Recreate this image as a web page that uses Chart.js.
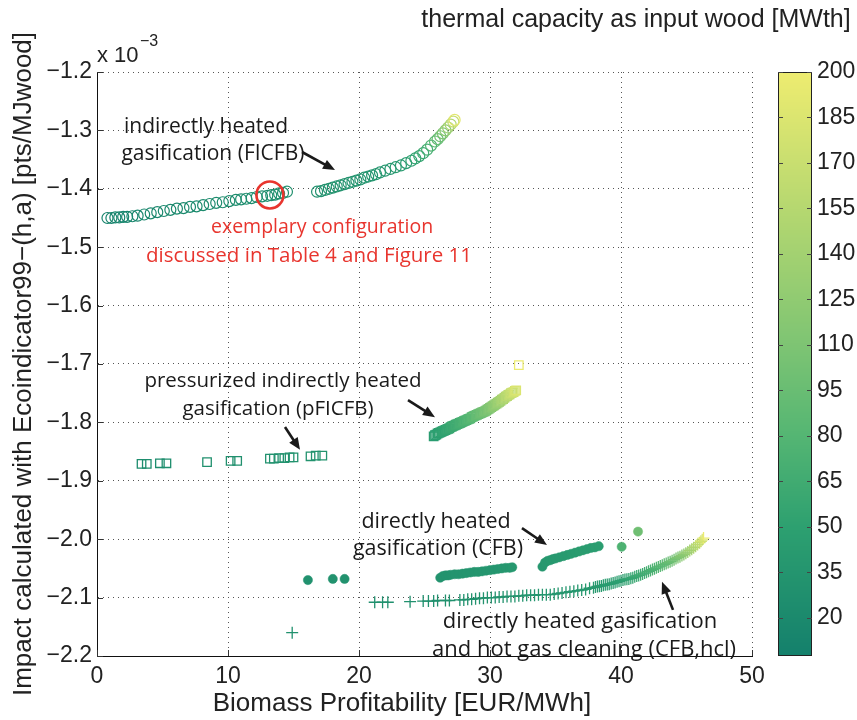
<!DOCTYPE html>
<html>
<head>
<meta charset="utf-8">
<title>Biomass profitability vs. impact</title>
<script src="https://cdn.jsdelivr.net/npm/chart.js@4.4.1/dist/chart.umd.min.js"></script>
<style>
html, body { margin: 0; padding: 0; background: #fff; }
canvas { display: block; }
</style>
</head>
<body>
<canvas id="chart" width="857" height="720"></canvas>
<script>
// axis ticks
const xTicks = [0, 10, 20, 30, 40, 50];
const yTicks = [-2.2, -2.1, -2.0, -1.9, -1.8, -1.7, -1.6, -1.5, -1.4, -1.3, -1.2];
const capacityTicks = [20, 35, 50, 65, 80, 95, 110, 125, 140, 155, 170, 185, 200];
const capacityMin = 7.4;
const capacityMax = 200;

// indirectly heated gasification (FICFB): profitability, impact (x 10^-3), capacity
const ficfbX = [0.8,1.1,1.4,1.7,2.0,2.3,2.7,3.1,3.6,4.1,4.6,5.1,5.6,6.1,6.6,7.1,7.6,8.1,8.6,9.1,
  9.6,10.1,10.6,11.0,11.4,11.8,12.2,12.6,13.0,13.3,13.6,13.9,14.2,14.5,
  16.8,17.1,17.4,17.7,18.0,18.3,18.6,18.9,19.2,19.5,19.8,20.1,20.4,20.7,21.0,21.3,21.6,22.0,22.4,22.8,
  23.2,23.6,24.0,24.3,24.6,24.9,25.2,25.5,25.8,26.0,26.2,26.4,26.6,26.8,27.0,27.2,27.3];
const ficfbY = [-1.450,-1.450,-1.449,-1.449,-1.448,-1.448,-1.447,-1.446,-1.444,-1.442,
  -1.440,-1.438,-1.436,-1.434,-1.433,-1.431,-1.430,-1.428,-1.426,-1.424,
  -1.423,-1.421,-1.419,-1.418,-1.417,-1.416,-1.414,-1.413,-1.412,-1.411,
  -1.410,-1.408,-1.407,-1.405,
  -1.405,-1.404,-1.402,-1.400,-1.398,-1.396,-1.394,-1.392,-1.390,-1.388,
  -1.386,-1.384,-1.381,-1.379,-1.377,-1.375,-1.372,-1.369,-1.366,-1.363,
  -1.360,-1.356,-1.352,-1.348,-1.344,-1.339,-1.333,-1.326,-1.319,-1.315,
  -1.310,-1.305,-1.300,-1.295,-1.290,-1.285,-1.282];
const ficfbCap = [12,12,13,13,14,14,15,15,16,17,17,18,18,19,19,20,20,21,21,22,
  22,23,23,24,24,25,25,26,26,27,27,28,28,29,
  30,30,31,31,31,32,32,32,33,33,33,34,34,35,35,36,36,37,38,40,
  42,45,49,53,57,62,68,75,84,92,100,110,122,135,150,170,190];

// pressurized indirectly heated gasification (pFICFB)
const pficfbX = [3.4,3.8,4.8,5.3,8.4,10.2,10.7,13.2,13.5,13.9,14.3,14.7,15.0,16.3,16.7,17.2,
  25.7,25.8,25.9,26.0,26.1,26.2,26.3,26.4,26.5,26.6,
  26.7,26.8,26.9,27.0,27.1,27.2,27.3,27.4,27.5,27.6,
  27.7,27.8,27.9,28.0,28.1,28.2,28.3,28.4,28.5,28.6,
  28.7,28.8,28.9,29.0,29.1,29.2,29.3,29.4,29.5,29.6,
  29.7,29.8,29.9,30.0,30.1,30.2,30.3,30.4,30.5,30.6,
  30.7,30.8,30.9,31.0,31.1,31.2,31.3,31.4,31.5,31.6,
  31.7,31.8,31.9,32.0,
  32.2];
const pficfbY = [-1.871,-1.871,-1.870,-1.870,-1.868,-1.866,-1.866,-1.862,-1.862,-1.861,
  -1.861,-1.860,-1.860,-1.858,-1.857,-1.857,
  -1.824,-1.822,-1.821,-1.819,-1.818,-1.817,-1.816,-1.815,-1.814,-1.813,
  -1.812,-1.811,-1.810,-1.808,-1.807,-1.806,-1.805,-1.804,-1.803,-1.802,
  -1.801,-1.800,-1.799,-1.798,-1.797,-1.796,-1.795,-1.794,-1.793,-1.791,
  -1.790,-1.789,-1.788,-1.787,-1.786,-1.785,-1.784,-1.783,-1.782,-1.781,
  -1.780,-1.778,-1.777,-1.775,-1.774,-1.772,-1.771,-1.769,-1.768,-1.766,
  -1.765,-1.763,-1.761,-1.760,-1.758,-1.756,-1.755,-1.753,-1.752,-1.750,
  -1.749,-1.748,-1.746,-1.745,
  -1.702];
const pficfbCap = [24,25,25,26,28,29,29,30,30,30,31,31,31,32,32,33,
  45,46,47,48,49,50,51,52,53,54,
  55,57,58,59,60,62,63,65,66,68,
  69,71,72,74,75,77,78,80,82,84,
  86,88,90,92,94,96,98,100,102,105,
  107,110,112,115,118,121,124,127,130,134,
  137,141,144,148,151,155,158,162,165,169,
  172,176,180,185,
  198];

// directly heated gasification (CFB)
const cfbX = [16.1,18.0,18.9,
  26.2,26.4,26.6,26.8,27.0,27.3,27.6,27.9,28.2,28.5,28.8,29.1,29.4,29.7,30.0,30.3,30.6,30.9,31.2,31.5,31.7,
  34.0,34.2,34.4,34.6,34.8,35.0,35.3,35.6,35.9,36.2,36.5,36.8,37.1,37.4,37.7,38.0,38.3,
  40.05,41.3];
const cfbY = [-2.070,-2.068,-2.068,
  -2.066,-2.063,-2.062,-2.062,-2.061,-2.060,-2.060,-2.059,-2.058,-2.057,
  -2.056,-2.056,-2.055,-2.054,-2.053,-2.052,-2.051,-2.050,-2.049,-2.049,-2.048,
  -2.047,-2.040,-2.037,-2.036,-2.034,-2.033,-2.031,-2.029,-2.027,-2.025,
  -2.023,-2.021,-2.019,-2.017,-2.015,-2.014,-2.012,
  -2.013,-1.987];
const cfbCap = [30,31,31,
  32,32,33,33,33,34,34,34,35,35,35,36,36,36,37,37,37,38,38,38,39,
  38,39,39,40,40,41,41,42,42,43,43,44,44,45,45,46,46,
  75,100];

// directly heated gasification and hot gas cleaning (CFB,hcl)
const hclX = [14.9,21.2,21.8,22.2,23.9,24.9,25.3,25.7,26.0,26.6,26.9,
  27.7,28.0,28.3,28.6,28.9,29.2,29.5,29.8,30.1,30.4,
  30.7,31.0,31.3,31.6,31.9,32.2,32.5,32.8,33.1,33.4,
  33.7,34.0,34.3,34.6,34.9,35.2,35.5,35.8,36.1,36.4,
  36.7,37.0,37.3,37.6,37.9,38.2,38.5,38.8,39.1,39.4,
  39.7,40.0,40.3,40.6,40.9,41.2,41.5,41.8,42.1,42.4,
  42.7,43.0,43.3,43.6,43.9,44.2,44.5,44.8,45.1,45.4,
  45.7,46.0,46.2,46.3,
  38.05,38.35,38.65,38.95,39.25,39.55,39.85,40.15,40.45,40.75,
  41.05,41.35,41.65,41.95,42.25,42.55,42.85,43.15,43.45,43.75,
  44.05,44.35,44.65,44.95,45.25,45.55,45.85,46.1];
const hclY = [-2.160,-2.108,-2.108,-2.108,-2.107,-2.106,-2.106,-2.106,-2.105,-2.105,-2.105,
  -2.104,-2.104,-2.103,-2.103,-2.102,-2.101,-2.101,-2.100,-2.100,-2.100,
  -2.099,-2.099,-2.098,-2.098,-2.098,-2.097,-2.097,-2.096,-2.096,-2.096,
  -2.095,-2.095,-2.095,-2.095,-2.094,-2.093,-2.092,-2.091,-2.090,-2.089,
  -2.088,-2.087,-2.086,-2.084,-2.083,-2.081,-2.080,-2.078,-2.077,-2.075,
  -2.073,-2.071,-2.069,-2.068,-2.066,-2.063,-2.061,-2.058,-2.055,-2.052,
  -2.049,-2.046,-2.043,-2.040,-2.037,-2.033,-2.030,-2.026,-2.022,-2.017,
  -2.012,-2.006,-2.001,-1.998,
  -2.082,-2.0805,-2.079,-2.0775,-2.076,-2.074,-2.072,-2.070,-2.0685,-2.067,
  -2.0645,-2.062,-2.0595,-2.0565,-2.0535,-2.0505,-2.0475,-2.0445,-2.0415,-2.0385,
  -2.035,-2.0315,-2.028,-2.024,-2.0195,-2.0145,-2.009,-2.0035];
const hclCap = [30,28,28,28,29,29,29,29,30,30,30,
  30,30,31,31,31,31,32,32,32,32,
  33,33,33,33,34,34,34,35,35,35,
  35,36,36,36,37,37,37,38,38,38,
  39,39,40,40,41,41,42,43,44,45,
  47,49,51,54,57,60,63,66,70,74,
  78,83,88,94,100,107,115,124,134,145,
  155,170,185,198,
  41,42,42,43,44,46,48,50,52,55,
  58,61,64,68,72,76,80,85,91,97,
  103,111,119,129,139,150,162,178];

// text notes and arrows, placed in data coordinates
const notes = [
  { x: 8.32, y: -1.294, size: 21, text: 'indirectly heated' },
  { x: 8.85, y: -1.340, size: 21, text: 'gasification (FICFB)' },
  { x: 17.18, y: -1.467, size: 19.5, text: 'exemplary configuration', color: '#e8352e' },
  { x: 16.18, y: -1.515, size: 20.5, text: 'discussed in Table 4 and Figure 11', color: '#e8352e' },
  { x: 14.2, y: -1.729, size: 20.5, text: 'pressurized indirectly heated' },
  { x: 13.82, y: -1.777, size: 20.5, text: 'gasification (pFICFB)' },
  { x: 25.88, y: -1.971, size: 21.5, text: 'directly heated' },
  { x: 26.03, y: -2.017, size: 21.5, text: 'gasification (CFB)' },
  { x: 36.87, y: -2.142, size: 22, text: 'directly heated gasification' },
  { x: 37.18, y: -2.190, size: 22, text: 'and hot gas cleaning (CFB,hcl)' }
];
const arrows = [
  [15.65, -1.337, 18.17, -1.368],
  [14.35, -1.808, 15.5, -1.847],
  [23.74, -1.762, 25.8, -1.791],
  [32.44, -1.981, 34.35, -2.010],
  [43.97, -2.121, 43.13, -2.073]
];
const highlight = { x: 13.2, y: -1.4106 };

// green-to-yellow colour map for the capacity scale
const cmap = [
  [0.00, [20, 128, 108]],
  [0.22, [45, 160, 112]],
  [0.38, [85, 182, 115]],
  [0.53, [125, 196, 115]],
  [0.76, [180, 215, 112]],
  [1.00, [238, 236, 112]]
];

function colorFor(v) {
  let t = (v - capacityMin) / (capacityMax - capacityMin);
  t = Math.max(0, Math.min(1, t));
  for (let i = 1; i < cmap.length; i++) {
    if (t <= cmap[i][0]) {
      const [t0, c0] = cmap[i - 1];
      const [t1, c1] = cmap[i];
      const f = (t - t0) / (t1 - t0);
      const c = c0.map((a, k) => Math.round(a + (c1[k] - a) * f));
      return 'rgb(' + c.join(',') + ')';
    }
  }
  return 'rgb(' + cmap[cmap.length - 1][1].join(',') + ')';
}

function points(xs, ys, cs) {
  return xs.map((x, i) => ({ x: x, y: ys[i], c: cs[i] }));
}

const markColor = ctx => colorFor(ctx.raw ? ctx.raw.c : capacityMin);

const sans = "'Liberation Sans', Arial, sans-serif";
const tickFont = { family: sans, size: 23 };
const noteFamily = "'Open Sans', Lato, sans-serif";

function arrow(ctx, x1, y1, x2, y2) {
  const a = Math.atan2(y2 - y1, x2 - x1);
  const head = 13, wing = 0.4;
  ctx.beginPath();
  ctx.moveTo(x1, y1);
  ctx.lineTo(x2 - head * 0.8 * Math.cos(a), y2 - head * 0.8 * Math.sin(a));
  ctx.stroke();
  ctx.beginPath();
  ctx.moveTo(x2, y2);
  ctx.lineTo(x2 - head * Math.cos(a - wing), y2 - head * Math.sin(a - wing));
  ctx.lineTo(x2 - head * Math.cos(a + wing), y2 - head * Math.sin(a + wing));
  ctx.closePath();
  ctx.fill();
}

const decorations = {
  id: 'decorations',
  beforeDatasetsDraw(chart) {
    // inward tick marks on the left and bottom axes
    const { ctx, chartArea: area, scales: { x, y } } = chart;
    ctx.save();
    ctx.strokeStyle = '#333';
    ctx.lineWidth = 1;
    ctx.beginPath();
    xTicks.forEach(v => {
      const px = Math.round(x.getPixelForValue(v)) + 0.5;
      ctx.moveTo(px, area.bottom);
      ctx.lineTo(px, area.bottom - 6);
    });
    yTicks.forEach(v => {
      const py = Math.round(y.getPixelForValue(v)) + 0.5;
      ctx.moveTo(area.left, py);
      ctx.lineTo(area.left + 6, py);
    });
    ctx.stroke();
    ctx.restore();
  },
  afterDraw(chart) {
    const { ctx, scales: { x, y, cap } } = chart;
    ctx.save();

    // colour bar
    const barLeft = cap.left + 26, barWidth = 34;
    const top = Math.round(cap.getPixelForValue(capacityMax));
    const bottom = Math.round(cap.getPixelForValue(capacityMin));
    for (let py = top; py < bottom; py++) {
      ctx.fillStyle = colorFor(cap.getValueForPixel(py + 0.5));
      ctx.fillRect(barLeft, py, barWidth, 1);
    }
    ctx.strokeStyle = '#222';
    ctx.lineWidth = 1;
    ctx.strokeRect(barLeft + 0.5, top + 0.5, barWidth - 1, bottom - top - 1);
    ctx.strokeStyle = '#444';
    ctx.beginPath();
    capacityTicks.forEach(v => {
      const py = Math.round(cap.getPixelForValue(v)) + 0.5;
      ctx.moveTo(barLeft, py); ctx.lineTo(barLeft + 5, py);
      ctx.moveTo(barLeft + barWidth - 5, py); ctx.lineTo(barLeft + barWidth, py);
    });
    ctx.stroke();

    // titles
    ctx.fillStyle = '#222';
    ctx.textBaseline = 'middle';
    ctx.textAlign = 'center';
    ctx.font = '25px ' + sans;
    ctx.fillText('thermal capacity as input wood [MWth]', 636, 20);
    ctx.font = '26px ' + sans;
    ctx.fillText('Biomass Profitability [EUR/MWh]', 402, 704);

    // exponent of the y axis
    ctx.textAlign = 'left';
    ctx.textBaseline = 'alphabetic';
    ctx.font = '22px ' + sans;
    ctx.fillText('x 10', 97, 62);
    ctx.font = '16px ' + sans;
    ctx.fillText('\u22123', 140, 46);

    // highlighted configuration
    ctx.strokeStyle = '#e8352e';
    ctx.lineWidth = 2.6;
    ctx.beginPath();
    ctx.arc(x.getPixelForValue(highlight.x), y.getPixelForValue(highlight.y), 13.5, 0, Math.PI * 2);
    ctx.stroke();

    // notes
    ctx.textAlign = 'center';
    ctx.textBaseline = 'middle';
    notes.forEach(n => {
      ctx.font = n.size + 'px ' + noteFamily;
      ctx.fillStyle = n.color || '#1a1a1a';
      ctx.fillText(n.text, x.getPixelForValue(n.x), y.getPixelForValue(n.y));
    });

    ctx.strokeStyle = '#1a1a1a';
    ctx.fillStyle = '#1a1a1a';
    ctx.lineWidth = 2.6;
    arrows.forEach(a => arrow(ctx,
      x.getPixelForValue(a[0]), y.getPixelForValue(a[1]),
      x.getPixelForValue(a[2]), y.getPixelForValue(a[3])));

    ctx.restore();
  }
};

new Chart(document.getElementById('chart'), {
  type: 'scatter',
  data: {
    datasets: [
      {
        label: 'FICFB',
        data: points(ficfbX, ficfbY, ficfbCap),
        pointStyle: 'circle',
        pointRadius: 5.5,
        pointBorderWidth: 1.2,
        pointBackgroundColor: 'rgba(0,0,0,0)',
        pointBorderColor: markColor
      },
      {
        label: 'pFICFB',
        data: points(pficfbX, pficfbY, pficfbCap),
        pointStyle: 'rect',
        pointRadius: 6,
        pointBorderWidth: 1.3,
        pointBackgroundColor: 'rgba(0,0,0,0)',
        pointBorderColor: markColor
      },
      {
        label: 'CFB',
        data: points(cfbX, cfbY, cfbCap),
        pointStyle: 'circle',
        pointRadius: 4.6,
        pointBorderWidth: 0.5,
        pointBackgroundColor: markColor,
        pointBorderColor: markColor
      },
      {
        label: 'CFB,hcl',
        data: points(hclX, hclY, hclCap),
        pointStyle: 'cross',
        pointRadius: 6,
        pointBorderWidth: 1.3,
        pointBorderColor: markColor
      }
    ]
  },
  options: {
    responsive: false,
    animation: false,
    events: [],
    layout: { padding: { top: 72, left: 0, right: 0, bottom: 0 } },
    plugins: { legend: { display: false }, tooltip: { enabled: false } },
    scales: {
      x: {
        type: 'linear',
        min: 0,
        max: 50,
        afterBuildTicks: s => { s.ticks = xTicks.map(v => ({ value: v })); },
        afterFit: s => { s.height = 64; },
        ticks: { font: tickFont, color: '#222', padding: 7 },
        grid: { color: '#555', drawTicks: false },
        border: { color: '#111', width: 1, dash: [1, 4] }
      },
      y: {
        type: 'linear',
        min: -2.2,
        max: -1.2,
        afterBuildTicks: s => { s.ticks = yTicks.map(v => ({ value: v })); },
        afterFit: s => { s.width = 97; },
        ticks: {
          font: tickFont,
          color: '#222',
          padding: 5,
          callback: v => v.toFixed(1).replace('-', '\u2212')
        },
        grid: { color: '#555', drawTicks: false },
        border: { color: '#111', width: 1, dash: [1, 4] },
        title: {
          display: true,
          text: 'Impact calculated with Ecoindicator99\u2212(h,a) [pts/MJwood]',
          font: { family: sans, size: 26 },
          color: '#222',
          padding: { top: 8, bottom: 0 }
        }
      },
      cap: {
        type: 'linear',
        position: 'right',
        min: capacityMin,
        max: capacityMax,
        afterBuildTicks: s => { s.ticks = capacityTicks.map(v => ({ value: v })); },
        afterFit: s => { s.width = 105; },
        // labels sit right of the colour bar; the invisible tick length provides the offset
        ticks: { font: tickFont, color: '#222', padding: 0 },
        grid: {
          display: true,
          drawOnChartArea: false,
          drawTicks: true,
          tickLength: 65,
          color: 'rgba(0,0,0,0)'
        },
        border: { display: false }
      }
    }
  },
  plugins: [decorations]
});
</script>
</body>
</html>
